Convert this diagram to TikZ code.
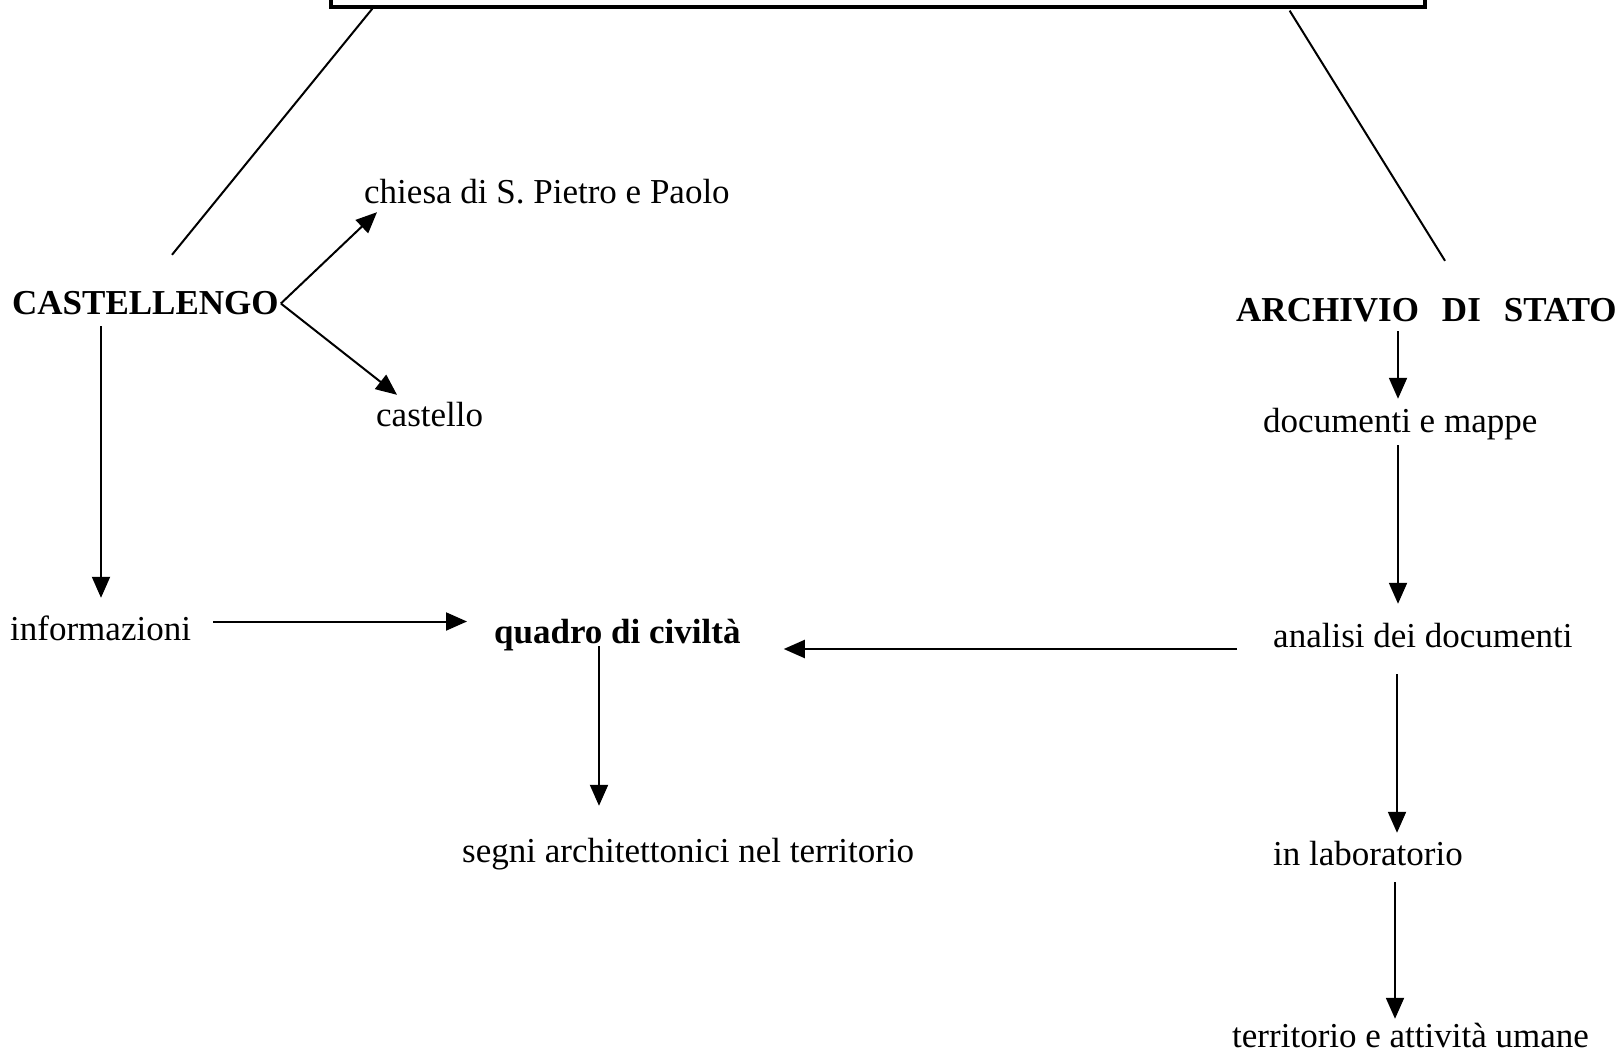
\documentclass[tikz,border=0pt]{standalone}
\usepackage{fontspec}
\setmainfont{Liberation Serif}
\usetikzlibrary{arrows.meta}
\begin{document}
\begin{tikzpicture}[x=1pt,y=-1pt,
  lbl/.style={anchor=base west,inner sep=0pt,text height=25pt,text depth=8pt,font=\fontsize{35}{42}\selectfont},
  blbl/.style={lbl,font=\fontsize{35}{42}\selectfont\bfseries},
  conn/.style={line width=2pt},
  arr/.style={line width=2pt,-{Triangle[length=21pt,width=18pt]}},
  topbox/.style={draw,line width=3.2pt,minimum width=1094pt,minimum height=60pt,inner sep=0pt}]
\useasboundingbox (0,0) rectangle (1621,1056);
\node[topbox] (top) at (878,-23) {};
\node[blbl] (cast) at (12,315) {CASTELLENGO};
\node[lbl] (chiesa) at (364,204) {chiesa di S. Pietro e Paolo};
\node[lbl] (castello) at (376,426) {castello};
\node[lbl] (info) at (10,640) {informazioni};
\node[blbl] (quadro) at (494,643) {quadro di civiltà};
\node[lbl] (segni) at (462,862) {segni architettonici nel territorio};
\node[blbl] (arch) at (1236,322) {ARCHIVIO\hspace{23pt}DI\hspace{23pt}STATO};
\node[lbl] (doc) at (1263,432) {documenti e mappe};
\node[lbl] (anal) at (1273,647) {analisi dei documenti};
\node[lbl] (lab) at (1273,865) {in laboratorio};
\node[lbl] (terr) at (1232,1047) {territorio e attività umane};
% lines from the box
\draw[conn] ([shift={(43,0)}]top.south west) -- ([shift={(160,-35)}]cast.north west);
\draw[conn] ([shift={(-137,2)}]top.south east) -- ([shift={(209,-36)}]arch.north west);
% castellengo branch
\draw[arr] ([shift={(2,-3)}]cast.east) -- ([shift={(13,0)}]chiesa.south west);
\draw[arr] ([shift={(2,-3)}]cast.east) -- ([shift={(21,-6)}]castello.north west);
\draw[arr] ([shift={(89,3)}]cast.south west) -- ([shift={(91,-17)}]info.north west);
\path ([shift={(22,-10)}]info.east) coordinate (a1);
\draw[arr,shorten >=27pt] (a1) -- (a1 -| quadro.west);
\path ([shift={(-36,10.5)}]anal.west) coordinate (a2);
\draw[arr,shorten >=43pt] (a2) -- (a2 -| quadro.east);
\draw[arr] ([shift={(105,-5)}]quadro.south west) -- ([shift={(137,-31)}]segni.north west);
% archivio branch
\draw[arr] ([shift={(162,1)}]arch.south west) -- ([shift={(135,-8)}]doc.north west);
\draw[arr] ([shift={(135,5)}]doc.south west) -- ([shift={(125,-18)}]anal.north west);
\draw[arr] ([shift={(124,19)}]anal.south west) -- ([shift={(124,-7)}]lab.north west);
\draw[arr] ([shift={(122,9)}]lab.south west) -- ([shift={(163,-3)}]terr.north west);
\end{tikzpicture}
\end{document}
